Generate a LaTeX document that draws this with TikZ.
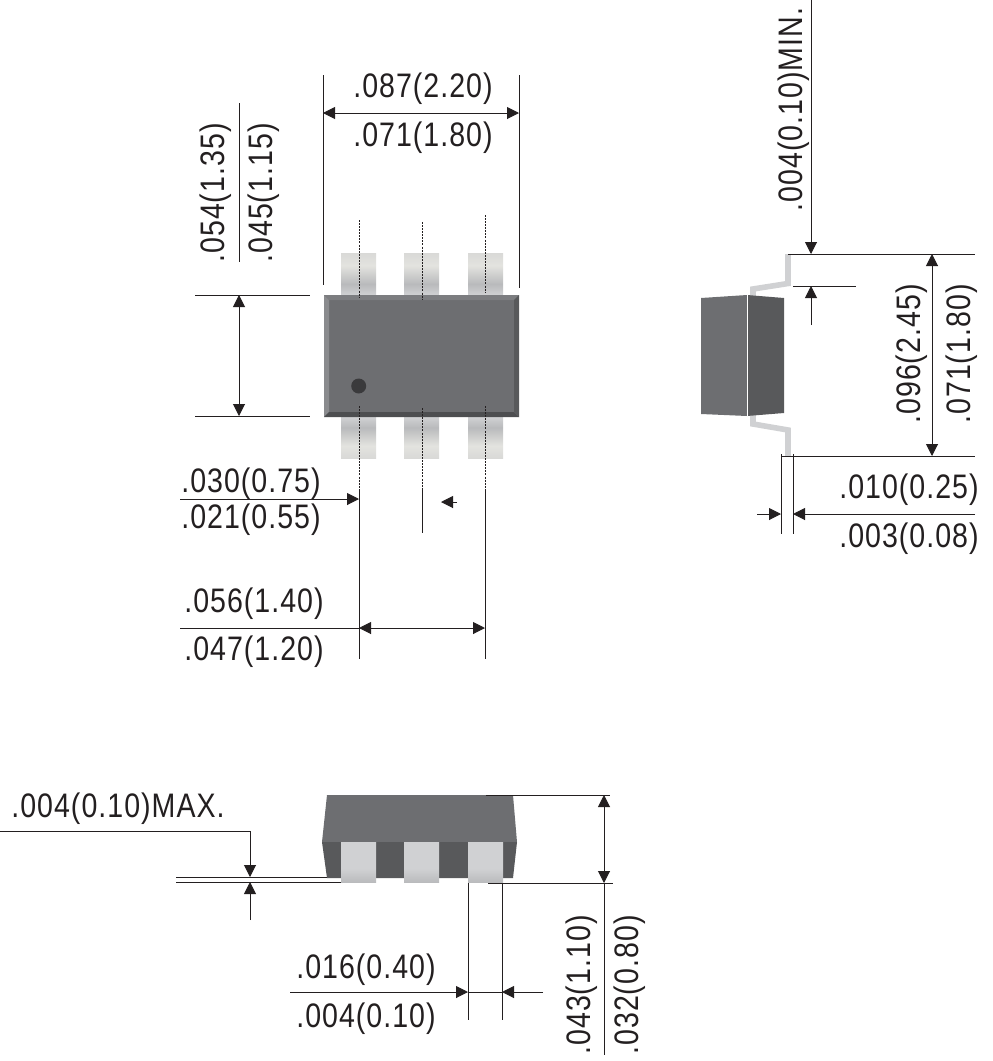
\documentclass[tikz,border=0pt]{standalone}
\usepackage{fontspec}
\setmainfont{Liberation Sans}
\newfontfamily\dimfont[FakeStretch=0.84,LetterSpace=3]{Liberation Sans}
\usetikzlibrary{arrows.meta}
\definecolor{ink}{HTML}{231F20}
\definecolor{bodyc}{HTML}{6D6E71}
\definecolor{darkc}{HTML}{58595B}
\definecolor{leadc}{HTML}{D0D1D3}
\definecolor{leadl}{HTML}{D9D9D7}
\definecolor{leadm}{HTML}{B9BABC}
\definecolor{leadh}{HTML}{E3E3DF}
\definecolor{bevt}{HTML}{7C7D80}
\definecolor{bevl}{HTML}{8A8B8E}
\definecolor{bevb}{HTML}{4D4E50}
\definecolor{dotc}{HTML}{3A3A3C}
\pgfdeclareverticalshading{leadtop}{100bp}{color(0bp)=(leadc); color(25bp)=(leadc); color(38bp)=(leadm); color(60bp)=(leadh); color(75bp)=(leadl); color(100bp)=(leadl)}
\pgfdeclareverticalshading{leadbot}{100bp}{color(0bp)=(leadl); color(25bp)=(leadl); color(40bp)=(leadh); color(62bp)=(leadm); color(75bp)=(leadc); color(100bp)=(leadc)}
\pgfdeclareverticalshading{leadfront}{100bp}{color(0bp)=(leadm); color(25bp)=(leadm); color(42bp)=(leadc); color(75bp)=(leadc); color(100bp)=(leadc)}
\tikzset{
  x=0.75pt,y=-0.75pt,
  dimline/.style={draw=ink,line width=0.75pt},
  onearrow/.style={dimline,-{Triangle[length=9pt,width=9pt]}},
  twoarrow/.style={dimline,{Triangle[length=9pt,width=9pt]}-{Triangle[length=9pt,width=9pt]}},
  dimtext/.style={text=ink,font=\dimfont\fontsize{25.5}{25.5}\selectfont,inner sep=0pt,anchor=base},
  vtext/.style={dimtext,rotate=90},
  centre/.style={draw=ink,line width=0.5pt,dash pattern=on 1.5pt off 0.8pt},
  leadbar/.style={line width=4.2pt,draw=leadc,line join=miter},
}
\begin{document}
\begin{tikzpicture}
\useasboundingbox (0,0) rectangle (993,1061);
% ---- top view: leads
\foreach \lx in {341,404,468}{
  \path[shading=leadtop] (\lx,253) rectangle ++(35,42);
  \path[shading=leadbot] (\lx,417) rectangle ++(35,41);
}
% body with bevels
\fill[bodyc] (324,295) rectangle (519,417);
\fill[bevt] (324,295) -- (519,295) -- (514,300) -- (329,300) -- cycle;
\fill[bevl] (324,295) -- (329,300) -- (329,412) -- (324,417) -- cycle;
\fill[bevb] (324,417) -- (329,412) -- (514,412) -- (519,417) -- cycle;
\fill[darkc] (519,295) -- (514,300) -- (514,412) -- (519,417) -- cycle;
\fill[dotc] (358.7,386) circle [radius=7.5];
% centre marks
\draw[centre] (359,220) -- (359,298);
\draw[centre] (422,222) -- (422,300);
\draw[centre] (485,215) -- (485,292);
\draw[centre] (359,406) -- (359,490);
\draw[centre] (422,408) -- (422,490);
\draw[centre] (485,406) -- (485,490);
% width dim
\draw[dimline] (323,75) -- (323,285);
\draw[dimline] (519,75) -- (519,288);
\draw[twoarrow] (323,113) -- (519,113);
\node[dimtext] (wa) at (423,97.5) {.087(2.20)};
\node[dimtext] (wb) at (423,146) {.071(1.80)};
% height dim
\draw[dimline] (195,295) -- (310,295);
\draw[dimline] (195,416) -- (310,416);
\draw[twoarrow] (239,295) -- (239,416);
\draw[dimline] (239,103) -- (239,262);
\node[vtext] (ha) at (224,193) {.054(1.35)};
\node[vtext] (hb) at (272,193) {.045(1.15)};
% lead width dim
\draw[onearrow] (180,499) -- (359,499);
\draw[dimline] (359,490) -- (359,659);
\draw[dimline] (422,490) -- (422,533);
\draw[dimline] (485,490) -- (485,659);
\draw[onearrow] (457,502) -- (441,502);
\node[dimtext] (la) at (251,492) {.030(0.75)};
\node[dimtext] (lb) at (251,528) {.021(0.55)};
% pitch dim
\draw[dimline] (180,628) -- (359,628);
\draw[twoarrow] (359,628) -- (485,628);
\node[dimtext] (pa) at (254,612) {.056(1.40)};
\node[dimtext] (pb) at (254,660) {.047(1.20)};
% ---- side view
\draw[leadbar] (788,254) -- (788,283.5) -- (753,289) -- (753,298);
\draw[leadbar] (753,414) -- (753,424) -- (788,430) -- (788,456);
\fill[bodyc] (701,298) -- (747,295) -- (747,416) -- (701,414) -- cycle;
\fill[darkc] (747,295) -- (784,298) -- (784,413) -- (747,416) -- cycle;
\draw[white,line width=0.4pt] (747,295) -- (747,416);
\draw[dimline] (788,254) -- (975,254);
\draw[onearrow] (811,0) -- (811,254);
\node[vtext] (sa) at (802,109.5) {.004(0.10)MIN.};
\draw[dimline] (793,286) -- (856,286);
\draw[onearrow] (811,325) -- (811,286);
\draw[twoarrow] (932,254) -- (932,456);
\draw[dimline] (782,456) -- (975,456);
\node[vtext] (sb) at (920,354) {.096(2.45)};
\node[vtext] (sc) at (970,354) {.071(1.80)};
\draw[dimline] (781,454) -- (781,534);
\draw[dimline] (793,454) -- (793,534);
\draw[onearrow] (757,514) -- (781,514);
\draw[onearrow] (975,514) -- (793,514);
\node[dimtext] (sd) at (909,498) {.010(0.25)};
\node[dimtext] (se) at (909,547) {.003(0.08)};
% ---- front view
\fill[bodyc] (327,795) -- (513,795) -- (517,842) -- (322,842) -- cycle;
\fill[darkc] (322,842) -- (517,842) -- (513,878) -- (327,878) -- cycle;
\foreach \lx in {341,404,468}{
  \path[shading=leadfront] (\lx,842) rectangle ++(35,40.5);
}
\draw[dimline] (176,877) -- (327,877);
\draw[dimline] (176,882) -- (341,882);
\draw[dimline] (0,831) -- (250,831);
\draw[onearrow] (250,831) -- (250,877);
\draw[onearrow] (250,920) -- (250,882);
\node[dimtext] (fa) at (118,817) {.004(0.10)MAX.};
\draw[dimline] (486,795) -- (610,795);
\draw[dimline] (488,883) -- (613,883);
\draw[twoarrow] (604,795) -- (604,883);
\draw[dimline] (604,883) -- (604,1055);
\draw[dimline] (468,883) -- (468,1020);
\draw[dimline] (502,883) -- (502,1020);
\draw[onearrow] (290,992) -- (468,992);
\draw[dimline] (468,992) -- (502,992);
\draw[onearrow] (543,992) -- (502,992);
\node[dimtext] (fb) at (366,978) {.016(0.40)};
\node[dimtext] (fc) at (366,1027) {.004(0.10)};
\node[vtext] (fd) at (590,985) {.043(1.10)};
\node[vtext] (fe) at (638,985) {.032(0.80)};
\end{tikzpicture}
\end{document}
